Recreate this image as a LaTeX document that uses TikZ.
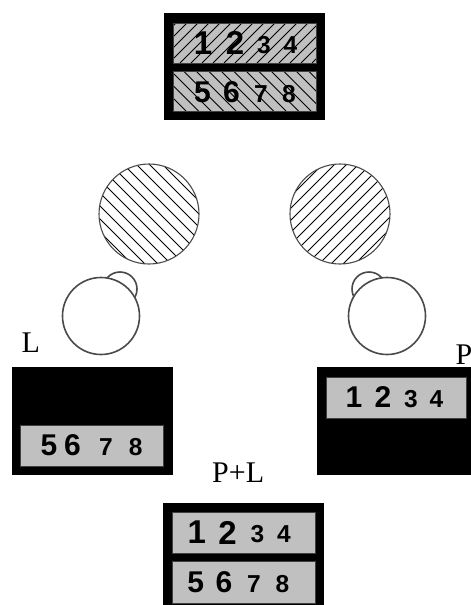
\documentclass[tikz,border=0pt]{standalone}
\usepackage{fontspec}
\setmainfont{Liberation Serif}
\newfontfamily\digitfont{Liberation Sans}
\definecolor{slotgray}{HTML}{C0C0C0}
\definecolor{ringgray}{HTML}{4A4A4A}
\tikzset{
  frame/.style={fill=black},
  slot/.style={fill=slotgray, draw=black!75, line width=0.6},
  hatchline/.style={black, line width=1.0},
  ring/.style={draw=ringgray, line width=1.6, fill=white},
  disc/.style={draw=ringgray, line width=1.1},
  bigdig/.style={inner sep=0, font=\digitfont\bfseries\fontsize{33}{33}\selectfont},
  middig/.style={inner sep=0, font=\digitfont\bfseries\fontsize{30}{30}\selectfont},
  smalldig/.style={inner sep=0, font=\digitfont\bfseries\fontsize{24.5}{24.5}\selectfont},
  lbl/.style={inner sep=0, anchor=base west, font=\fontsize{30}{30}\selectfont}
}
\begin{document}
\begin{tikzpicture}[x=1pt,y=-1pt]
\useasboundingbox (0,0) rectangle (471,605);

% ---- upper double slot, hatched ----
\fill[frame] (164,13) rectangle (325,120);
\fill[slotgray] (173,23) rectangle (316,63);
\begin{scope}
  \clip (173,23) rectangle (316,63);
  \foreach \c in {188,199,...,390} \draw[hatchline, line width=0.8] ({\c-23},23) -- ({\c-63},63);
\end{scope}
\draw[black!75, line width=0.6] (173,23) rectangle (316,63);
\fill[slotgray] (173,71) rectangle (316,111);
\begin{scope}
  \clip (173,71) rectangle (316,111);
  \foreach \c in {50,62.5,...,260} \draw[hatchline, line width=0.8] ({\c+71},71) -- ({\c+111},111);
\end{scope}
\draw[black!75, line width=0.6] (173,71) rectangle (316,111);
\node[bigdig] (u1) at (203,43) {1};
\node[bigdig] (u2) at (235,43) {2};
\node[smalldig] (u3) at (264,45) {3};
\node[smalldig] (u4) at (290.5,45) {4};
\node[middig] (u5) at (202.5,92) {5};
\node[middig] (u6) at (231.5,92) {6};
\node[smalldig] (u7) at (261,94) {7};
\node[smalldig] (u8) at (289,94) {8};

% ---- hatched discs ----
\begin{scope}
  \clip (149,214) circle[radius=50];
  \foreach \c in {-145,-132,...,20} \draw[hatchline] ({\c+150},150) -- ({\c+280},280);
\end{scope}
\draw[disc] (149,214) circle[radius=50];
\begin{scope}
  \clip (340,214) circle[radius=50];
  \foreach \c in {475,487,...,640} \draw[hatchline] ({\c-150},150) -- ({\c-280},280);
\end{scope}
\draw[disc] (340,214) circle[radius=50];

% ---- open circles with small bumps ----
\draw[ring] (120,289) circle[radius=17];
\draw[ring] (101,316) circle[radius=38.5];
\draw[ring] (369,289) circle[radius=17];
\draw[ring] (387,316) circle[radius=38.5];

% ---- labels ----
\node[lbl] (labL) at (21.5,352.5) {L};
\node[lbl] (labP) at (455.5,364) {P};
\node[lbl] (labPL) at (212,482) {P+L};

% ---- left block: lower slot ----
\fill[frame] (12,367) rectangle (173,475);
\draw[slot] (20,425) rectangle (163,466);
\node[middig] (l5) at (49,445.5) {5};
\node[middig] (l6) at (72.5,445.5) {6};
\node[smalldig] (l7) at (106,447.5) {7};
\node[smalldig] (l8) at (135.7,447.5) {8};

% ---- right block: upper slot ----
\fill[frame] (317,367) rectangle (476,475);
\draw[slot] (326,377) rectangle (466,418);
\node[middig] (r1) at (354,397.5) {1};
\node[middig] (r2) at (383,397.5) {2};
\node[smalldig] (r3) at (411,399.5) {3};
\node[smalldig] (r4) at (436.5,399.5) {4};

% ---- combined block ----
\fill[frame] (163,503) rectangle (324,610);
\draw[slot] (172,512) rectangle (315,553);
\draw[slot] (172,561) rectangle (315,603);
\node[bigdig] (b1) at (196.7,532.5) {1};
\node[bigdig] (b2) at (227.5,532.5) {2};
\node[smalldig] (b3) at (257.5,534.5) {3};
\node[smalldig] (b4) at (284,534.5) {4};
\node[middig] (b5) at (195.7,582) {5};
\node[middig] (b6) at (224,582) {6};
\node[smalldig] (b7) at (254,584) {7};
\node[smalldig] (b8) at (282.5,584) {8};
\end{tikzpicture}
\end{document}
